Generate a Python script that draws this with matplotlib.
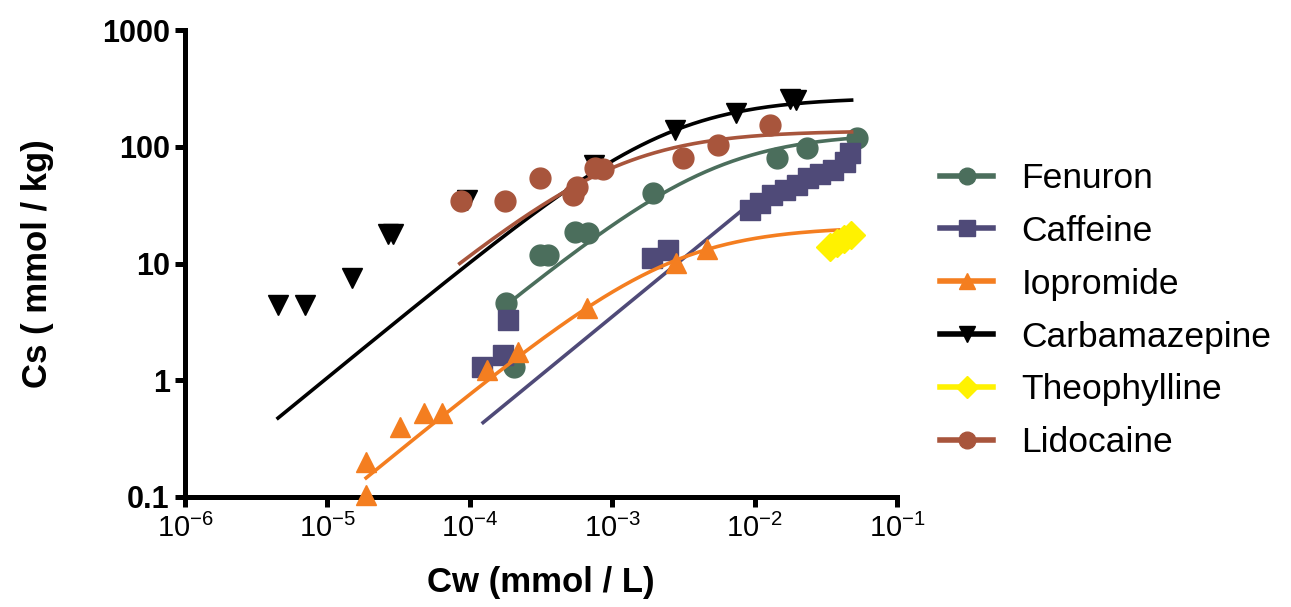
import numpy as np
import matplotlib
matplotlib.use("Agg")
import matplotlib.pyplot as plt
from matplotlib.lines import Line2D
from matplotlib.ticker import FixedLocator, FixedFormatter, NullLocator

plt.rcParams['font.family'] = ['Liberation Sans', 'DejaVu Sans']
plt.rcParams['axes.unicode_minus'] = False

# measured sorption data: Cw (mmol/L) vs Cs (mmol/kg)
fenuron_cw = [1.79e-4, 2.04e-4, 3.1e-4, 3.54e-4, 5.5e-4, 6.76e-4, 1.94e-3, 1.44e-2, 2.33e-2, 5.24e-2]
fenuron_cs = [4.6, 1.3, 11.8, 11.8, 18.6, 18.3, 40, 80, 97.6, 119]

caffeine_cw = [1.22e-4, 1.71e-4, 1.85e-4, 1.9e-3, 2.47e-3, 9.3e-3, 1.09e-2, 1.32e-2,
               1.63e-2, 1.98e-2, 2.37e-2, 2.88e-2, 3.56e-2, 4.31e-2, 4.68e-2]
caffeine_cs = [1.3, 1.64, 3.3, 11.1, 13.1, 28.7, 33, 38.6, 42.7, 47, 54, 58.4, 63, 74, 88]

iopromide_cw = [1.87e-5, 1.87e-5, 3.24e-5, 4.77e-5, 6.4e-5, 1.32e-4, 2.18e-4, 6.65e-4, 2.8e-3, 4.63e-3]
iopromide_cs = [0.2, 0.104, 0.398, 0.525, 0.52, 1.22, 1.75, 4.16, 10.1, 13.3]

carbamazepine_cw = [4.5e-6, 7.0e-6, 1.49e-5, 2.67e-5, 2.89e-5, 9.5e-5, 7.4e-4, 2.76e-3, 7.4e-3, 1.78e-2, 1.96e-2]
carbamazepine_cs = [4.4, 4.4, 7.5, 17.9, 17.9, 35, 70, 139, 194, 257, 250]

theophylline_cw = [0.0338, 0.0379, 0.0425, 0.0476]
theophylline_cs = [13.8, 15.0, 16.2, 17.5]

lidocaine_cw = [8.7e-5, 1.77e-4, 3.1e-4, 5.3e-4, 5.7e-4, 7.6e-4, 8.6e-4, 3.14e-3, 5.5e-3, 1.28e-2]
lidocaine_cs = [34.3, 34.3, 54, 38.6, 45, 65.8, 64, 80, 103.5, 153]

# fitted isotherms: Langmuir (qmax, K) and linear Kd for caffeine
fenuron_fit = [131, 193]
iopromide_fit = [20.7, 379]
carbamazepine_fit = [264, 400]
lidocaine_fit = [137, 927]
caffeine_kd = 3500

# concentration span of each fitted curve
fenuron_span = [1.63e-4, 0.052]
caffeine_span = [1.24e-4, 9.5e-3]
iopromide_span = [1.87e-5, 0.039]
carbamazepine_span = [4.5e-6, 0.048]
lidocaine_span = [8.5e-5, 0.048]

c_fen = '#4B6E5C'
c_caf = '#4F4A78'
c_iop = '#F47E20'
c_carb = '#000000'
c_theo = '#FFF200'
c_lido = '#A8553C'


def langmuir(cw, p):
    qmax, k = p
    return qmax * k * cw / (1 + k * cw)


def span(lim):
    return np.logspace(np.log10(lim[0]), np.log10(lim[1]), 200)


fig = plt.figure(figsize=(12.91, 6.07), dpi=100)
ax = fig.add_axes([185 / 1291, 1 - 497 / 607, 712 / 1291, 467 / 607])
ax.set_xscale('log')
ax.set_yscale('log')

lw = 2.6

# fenuron
x = span(fenuron_span)
ax.plot(x, langmuir(x, fenuron_fit), color=c_fen, lw=lw, zorder=2)
ax.plot(fenuron_cw, fenuron_cs, 'o', color=c_fen, ms=15, zorder=3, clip_on=False)

# caffeine
x = span(caffeine_span)
ax.plot(x, caffeine_kd * x, color=c_caf, lw=lw, zorder=2)
ax.plot(caffeine_cw, caffeine_cs, 's', color=c_caf, ms=14, zorder=3, clip_on=False)

# carbamazepine
x = span(carbamazepine_span)
ax.plot(x, langmuir(x, carbamazepine_fit), color=c_carb, lw=lw, zorder=2)
ax.plot(carbamazepine_cw, carbamazepine_cs, 'v', color=c_carb, ms=15, zorder=3, clip_on=False)

# lidocaine
x = span(lidocaine_span)
ax.plot(x, langmuir(x, lidocaine_fit), color=c_lido, lw=lw, zorder=4)
ax.plot(lidocaine_cw, lidocaine_cs, 'o', color=c_lido, ms=15, zorder=4, clip_on=False)

# iopromide
x = span(iopromide_span)
ax.plot(x, langmuir(x, iopromide_fit), color=c_iop, lw=lw, zorder=5)
ax.plot(iopromide_cw, iopromide_cs, '^', color=c_iop, ms=15, zorder=5, clip_on=False)

# theophylline
ax.plot(theophylline_cw, theophylline_cs, 'D', color=c_theo, ms=14, zorder=6, clip_on=False)

ax.set_xlim(1e-6, 1e-1)
ax.set_ylim(0.1, 1000)
ax.xaxis.set_major_locator(FixedLocator([1e-6, 1e-5, 1e-4, 1e-3, 1e-2, 1e-1]))
ax.xaxis.set_minor_locator(NullLocator())
ax.yaxis.set_major_locator(FixedLocator([0.1, 1, 10, 100, 1000]))
ax.yaxis.set_major_formatter(FixedFormatter(['0.1', '1', '10', '100', '1000']))
ax.yaxis.set_minor_locator(NullLocator())

for s in ['top', 'right']:
    ax.spines[s].set_visible(False)
for s in ['left', 'bottom']:
    ax.spines[s].set_linewidth(3.6)
    ax.spines[s].set_capstyle('projecting')

ax.tick_params(axis='both', which='major', length=7, width=3.6, direction='out')
ax.tick_params(axis='y', labelsize=22, pad=4)
ax.tick_params(axis='x', labelsize=21, pad=5)
for t in ax.get_yticklabels():
    t.set_fontweight('bold')

ax.set_xlabel('Cw (mmol / L)', fontsize=25, fontweight='bold', labelpad=17)
ax.set_ylabel('Cs ( mmol / kg)', fontsize=25, fontweight='bold', labelpad=34)

handles = [
    Line2D([], [], color=c_fen, lw=4, marker='o', ms=12),
    Line2D([], [], color=c_caf, lw=4, marker='s', ms=11),
    Line2D([], [], color=c_iop, lw=4, marker='^', ms=12),
    Line2D([], [], color=c_carb, lw=4, marker='v', ms=12),
    Line2D([], [], color=c_theo, lw=4, marker='D', ms=11),
    Line2D([], [], color=c_lido, lw=4, marker='o', ms=12),
]
labels = ['Fenuron', 'Caffeine', 'Iopromide', 'Carbamazepine', 'Theophylline', 'Lidocaine']
fig.legend(handles, labels, loc='upper left', bbox_to_anchor=(940 / 1291, 1 - 162 / 607),
           frameon=False, fontsize=25.5, handlelength=1.5, handletextpad=0.8,
           labelspacing=0.56, borderpad=0, borderaxespad=0)

fig.savefig('out.png', dpi=100)
